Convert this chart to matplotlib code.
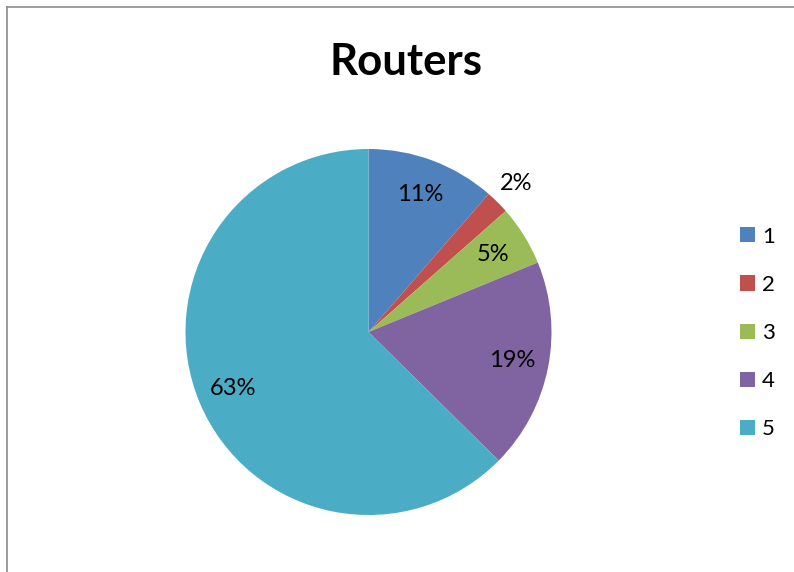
import matplotlib
matplotlib.use("Agg")
import matplotlib.pyplot as plt
from matplotlib.lines import Line2D
from matplotlib.patches import Patch
import numpy as np

plt.rcParams['font.family'] = ['Lato', 'DejaVu Sans']

categories = ['1', '2', '3', '4', '5']
values = [11.4, 2.1, 5.3, 18.6, 62.6]
colors = ['#4F81BD', '#C0504D', '#9BBB59', '#8064A2', '#4BACC6']
title = 'Routers'

W, H = 794, 572
fig = plt.figure(figsize=(W / 100, H / 100), dpi=100)
fig.patch.set_facecolor('white')

cx, cy, r = 368.5, 332, 183
ax = fig.add_axes([(cx - r) / W, (H - cy - r) / H, 2 * r / W, 2 * r / H])
wedges, texts, autotexts = ax.pie(values, colors=colors, startangle=90, counterclock=False,
                                  autopct='%1.0f%%', pctdistance=0.8,
                                  textprops={'fontsize': 17, 'color': 'black'},
                                  wedgeprops={'linewidth': 0})
ax.set_xlim(-1, 1)
ax.set_ylim(-1, 1)
ax.set_aspect('equal')

# move small slice label outside
for w, t, v in zip(wedges, autotexts, values):
    if v < 3:
        ang = np.deg2rad((w.theta1 + w.theta2) / 2)
        t.set_position((1.146 * np.cos(ang), 1.146 * np.sin(ang)))

fig.text(406 / W, 1 - 75 / H, title, ha='center', va='baseline', fontsize=31.5, fontweight='bold')

handles = [Patch(facecolor=c, edgecolor='none') for c in colors]
fig.legend(handles, categories, loc='center left', bbox_to_anchor=(740 / W, 1 - 333 / H),
           frameon=False, fontsize=16, handlelength=0.68, handleheight=0.68, borderpad=0,
           borderaxespad=0, handletextpad=0.32, labelspacing=1.27)

# border (top and left visible)
fig.add_artist(Line2D([7 / W, 7 / W], [0, 1 - 7 / H], color='#8c8c8c', lw=1.2, transform=fig.transFigure))
fig.add_artist(Line2D([7 / W, 1], [1 - 7 / H, 1 - 7 / H], color='#8c8c8c', lw=1.2, transform=fig.transFigure))

fig.savefig('out.png', dpi=100)
